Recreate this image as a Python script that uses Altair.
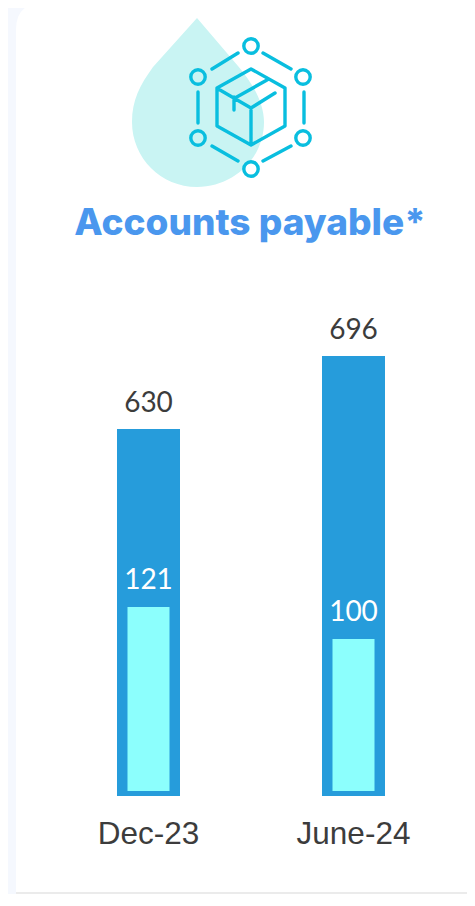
import altair as alt
import pandas as pd

categories = ["Dec-23", "June-24"]
total_values = [630, 696]
inner_values = [121, 100]

df = pd.DataFrame({"period": categories, "total": total_values, "inner": inner_values})

# Page coordinates are used in the decoration paths; the view starts at the 8px margin.
PAGE = alt.value(-8)

CARD = ("M16 30 Q16 3 43 3 L490 3 L490 880 L490 898 L16 898 Z")
CARD_EDGE = ("M16 893 L467 893")
DROP = ("M197 18 L153 67 C140 85 132 100 132 122 C132 158 161 187 197 187 "
        "C234 187 264 158 264 122 C264 102 251 81 238 66 Z")


def ring(cx, cy, r=7.2):
    return f"M{cx - r} {cy} a{r} {r} 0 1 0 {2 * r} 0 a{r} {r} 0 1 0 {-2 * r} 0 "


ICON = (
    ring(251, 46) + ring(303, 77) + ring(303, 138) + ring(251, 169) + ring(198, 138) + ring(198, 77)
    + "M212 69 L238 53 M263 53 L291 69 M304 92 L304 123 M291 146 L263 161 "
      "M238 161 L212 146 M198 92 L198 123 "
      "M251 69 L285 88 L285 126 L251 145 L217 126 L217 88 Z "
      "M220 90 L251 108 L275 93 M251 108 L251 145 M235 98 L267 80 M234 97 L234 110 "
)


def deco(path, **kw):
    return alt.Chart(df).transform_filter("datum.period == 'Dec-23'").mark_point(
        shape=path, size=4, opacity=1, **kw
    ).encode(x=PAGE, y=PAGE)


x = alt.X(
    "period:N",
    sort=categories,
    title=None,
    scale=alt.Scale(domain=categories, range=[109, 377], paddingInner=0.6927, paddingOuter=0),
    axis=alt.Axis(
        domain=False, ticks=False, labelAngle=0, labelFont="Liberation Sans", labelFontSize=31.5,
        labelColor="#3c3c3c", labelPadding=47, labelBaseline="alphabetic", grid=False, zindex=1,
    ),
)

y_total = alt.Y("total:Q", axis=None, scale=alt.Scale(domain=[298.2, 696], range=[788, 348]))
y_inner = alt.Y("inner:Q", axis=None, scale=alt.Scale(domain=[0, 121], range=[783, 599]))

outer = alt.Chart(df).mark_bar(color="#269cdb", clip=False).encode(x=x, y=y_total, y2=alt.Y2(datum=298.2))
outer_text = alt.Chart(df).mark_text(
    font="Lato", fontSize=28, color="#3c3c3c", baseline="alphabetic", dy=-17
).encode(x=x, y=y_total, text="total:Q")
inner = alt.Chart(df).mark_bar(color="#8cfffd", size=42).encode(x=x, y=y_inner, y2=alt.Y2(datum=0))
inner_text = alt.Chart(df).mark_text(
    font="Lato", fontSize=28, color="#ffffff", baseline="alphabetic", dy=-18
).encode(x=x, y=y_inner, text="inner:Q")

chart = (
    alt.layer(
        deco(CARD, filled=True, fill="#ffffff", strokeWidth=0),
        deco(CARD_EDGE, filled=False, stroke="#e4e4e4", strokeWidth=1.5),
        deco(DROP, filled=True, fill="#c9f4f3", strokeWidth=0),
        deco(ICON, filled=False, stroke="#09bedf", strokeWidth=3.4, strokeCap="round", strokeJoin="round"),
        alt.layer(outer, outer_text),
        alt.layer(inner, inner_text),
    )
    .resolve_scale(y="independent")
    .properties(
        width=459,
        height=788,
        background="#f5f8fe",
        padding={"left": 0, "top": 0, "right": 0, "bottom": 98},
        autosize=alt.AutoSizeParams(type="none"),
        title=alt.Title(
            "Accounts payable*", font="Inter", fontSize=37, fontWeight=800, color="#4a97ee",
            anchor="middle", frame="group", baseline="alphabetic", dx=12.5, dy=269, offset=0,
        ),
    )
    .configure_view(stroke=None)
)

chart.save("out.html", embed_options={"renderer": "svg", "actions": False})
